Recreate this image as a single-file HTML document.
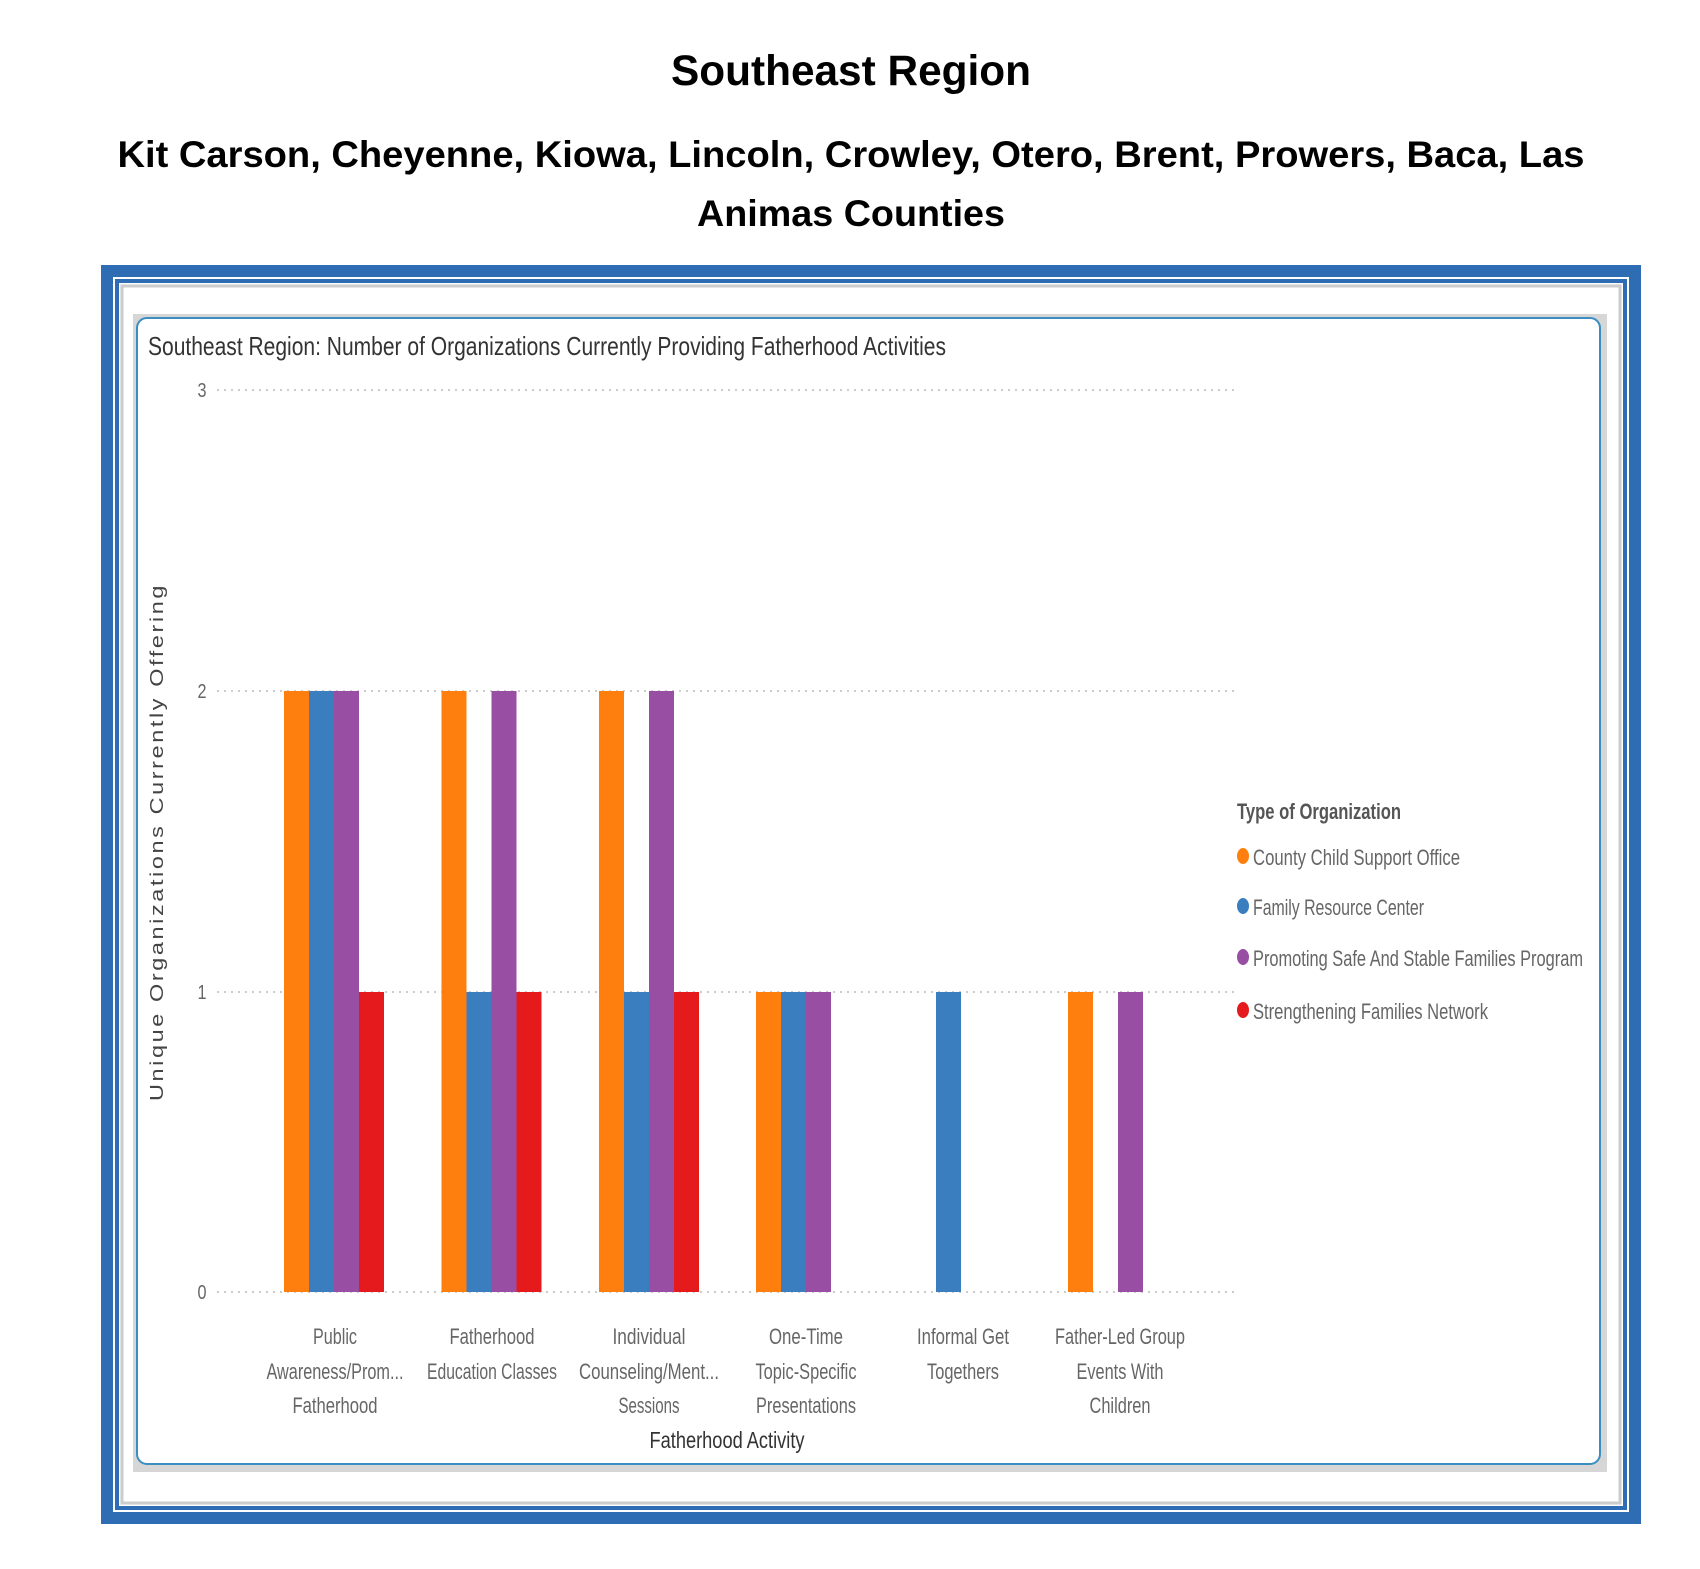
<!DOCTYPE html>
<html><head><meta charset="utf-8"><style>
html,body{margin:0;padding:0;background:#fff;}
svg{display:block;}
text{font-family:"Liberation Sans",sans-serif;}
</style></head><body>
<svg width="1700" height="1569" viewBox="0 0 1700 1569" xmlns="http://www.w3.org/2000/svg">
<text x="851" y="85" text-anchor="middle" font-size="43" font-weight="bold" textLength="360" lengthAdjust="spacingAndGlyphs">Southeast Region</text>
<text x="851" y="167" text-anchor="middle" font-size="37" font-weight="bold" textLength="1467" lengthAdjust="spacingAndGlyphs">Kit Carson, Cheyenne, Kiowa, Lincoln, Crowley, Otero, Brent, Prowers, Baca, Las</text>
<text x="851" y="226" text-anchor="middle" font-size="37" font-weight="bold" textLength="308" lengthAdjust="spacingAndGlyphs">Animas Counties</text>

<rect x="107" y="271" width="1528" height="1247" fill="none" stroke="#2e6db4" stroke-width="12"/>
<rect x="117" y="281" width="1508" height="1227" fill="none" stroke="#2e6db4" stroke-width="4"/>
<rect x="120" y="284" width="1502" height="1221" fill="#f7f7f7"/>
<rect x="122" y="286" width="1498" height="1217" fill="#fff" stroke="#ccc" stroke-width="3"/>
<rect x="133" y="314" width="1474" height="1158" fill="#d6d6d6"/>
<rect x="137" y="318" width="1463" height="1146" rx="10" fill="#fff" stroke="#3a8fc0" stroke-width="2"/>

<text x="148" y="355" font-size="26" fill="#333" textLength="798" lengthAdjust="spacingAndGlyphs">Southeast Region: Number of Organizations Currently Providing Fatherhood Activities</text>

<g stroke="#ccc" stroke-width="2" stroke-dasharray="2,5">
<line x1="217" y1="390" x2="1237" y2="390"/>
<line x1="217" y1="691" x2="1237" y2="691"/>
<line x1="217" y1="992" x2="1237" y2="992"/>
<line x1="217" y1="1292" x2="1237" y2="1292"/>
</g>
<g font-size="20" fill="#666" text-anchor="middle">
<text x="202" y="397" textLength="9" lengthAdjust="spacingAndGlyphs">3</text><text x="202" y="698" textLength="9" lengthAdjust="spacingAndGlyphs">2</text><text x="202" y="999" textLength="9" lengthAdjust="spacingAndGlyphs">1</text><text x="202" y="1299" textLength="9" lengthAdjust="spacingAndGlyphs">0</text>
</g>
<text transform="translate(163,842) rotate(-90)" text-anchor="middle" font-size="18" fill="#444" textLength="518" lengthAdjust="spacingAndGlyphs" letter-spacing="2">Unique Organizations Currently Offering</text>

<g>
<rect x="284" y="691" width="25" height="601" fill="#FF7F0E"/>
<rect x="309" y="691" width="25" height="601" fill="#3A7EBF"/>
<rect x="334" y="691" width="25" height="601" fill="#984EA3"/>
<rect x="359" y="992" width="25" height="300" fill="#E41A1C"/>

<rect x="441.5" y="691" width="25" height="601" fill="#FF7F0E"/>
<rect x="466.5" y="992" width="25" height="300" fill="#3A7EBF"/>
<rect x="491.5" y="691" width="25" height="601" fill="#984EA3"/>
<rect x="516.5" y="992" width="25" height="300" fill="#E41A1C"/>

<rect x="599" y="691" width="25" height="601" fill="#FF7F0E"/>
<rect x="624" y="992" width="25" height="300" fill="#3A7EBF"/>
<rect x="649" y="691" width="25" height="601" fill="#984EA3"/>
<rect x="674" y="992" width="25" height="300" fill="#E41A1C"/>

<rect x="756" y="992" width="25" height="300" fill="#FF7F0E"/>
<rect x="781" y="992" width="25" height="300" fill="#3A7EBF"/>
<rect x="806" y="992" width="25" height="300" fill="#984EA3"/>

<rect x="936" y="992" width="25" height="300" fill="#3A7EBF"/>

<rect x="1068" y="992" width="25" height="300" fill="#FF7F0E"/>
<rect x="1118" y="992" width="25" height="300" fill="#984EA3"/>
</g>

<g font-size="22" fill="#666" text-anchor="middle" lengthAdjust="spacingAndGlyphs">
<text x="335" y="1344" textLength="44" lengthAdjust="spacingAndGlyphs">Public</text>
<text x="335" y="1379" textLength="137" lengthAdjust="spacingAndGlyphs">Awareness/Prom...</text>
<text x="335" y="1413" textLength="85" lengthAdjust="spacingAndGlyphs">Fatherhood</text>
<text x="492" y="1344" textLength="85" lengthAdjust="spacingAndGlyphs">Fatherhood</text>
<text x="492" y="1379" textLength="130" lengthAdjust="spacingAndGlyphs">Education Classes</text>
<text x="649" y="1344" textLength="73" lengthAdjust="spacingAndGlyphs">Individual</text>
<text x="649" y="1379" textLength="140" lengthAdjust="spacingAndGlyphs">Counseling/Ment...</text>
<text x="649" y="1413" textLength="61" lengthAdjust="spacingAndGlyphs">Sessions</text>
<text x="806" y="1344" textLength="74" lengthAdjust="spacingAndGlyphs">One-Time</text>
<text x="806" y="1379" textLength="101" lengthAdjust="spacingAndGlyphs">Topic-Specific</text>
<text x="806" y="1413" textLength="100" lengthAdjust="spacingAndGlyphs">Presentations</text>
<text x="963" y="1344" textLength="92" lengthAdjust="spacingAndGlyphs">Informal Get</text>
<text x="963" y="1379" textLength="72" lengthAdjust="spacingAndGlyphs">Togethers</text>
<text x="1120" y="1344" textLength="130" lengthAdjust="spacingAndGlyphs">Father-Led Group</text>
<text x="1120" y="1379" textLength="87" lengthAdjust="spacingAndGlyphs">Events With</text>
<text x="1120" y="1413" textLength="61" lengthAdjust="spacingAndGlyphs">Children</text>
</g>
<text x="727" y="1448" text-anchor="middle" font-size="23" fill="#333" textLength="155" lengthAdjust="spacingAndGlyphs">Fatherhood Activity</text>

<text x="1237" y="819" font-size="22" font-weight="bold" fill="#555" textLength="164" lengthAdjust="spacingAndGlyphs">Type of Organization</text>
<g font-size="22" fill="#666">
<ellipse cx="1243" cy="856" rx="6" ry="8" fill="#FF7F0E"/><text x="1253" y="865" textLength="207" lengthAdjust="spacingAndGlyphs">County Child Support Office</text>
<ellipse cx="1243" cy="906" rx="6" ry="8" fill="#3A7EBF"/><text x="1253" y="915" textLength="171" lengthAdjust="spacingAndGlyphs">Family Resource Center</text>
<ellipse cx="1243" cy="957" rx="6" ry="8" fill="#984EA3"/><text x="1253" y="966" textLength="330" lengthAdjust="spacingAndGlyphs">Promoting Safe And Stable Families Program</text>
<ellipse cx="1243" cy="1010" rx="6" ry="8" fill="#E41A1C"/><text x="1253" y="1019" textLength="235" lengthAdjust="spacingAndGlyphs">Strengthening Families Network</text>
</g>
</svg>
</body></html>
